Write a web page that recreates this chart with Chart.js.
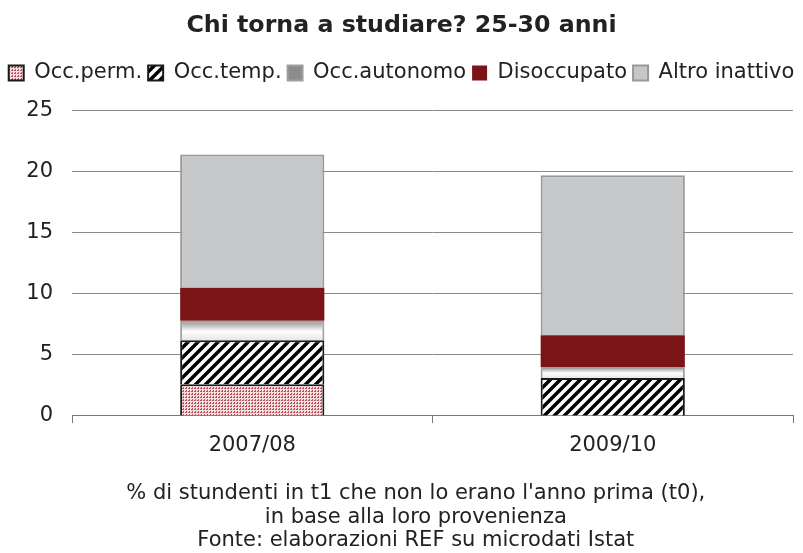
<!DOCTYPE html>
<html>
<head>
<meta charset="utf-8">
<script src="https://cdn.jsdelivr.net/npm/chart.js@4.4.1/dist/chart.umd.min.js"></script>
<style>
  html, body { margin: 0; padding: 0; background: #fff; }
  #wrap { width: 803px; height: 553px; }
</style>
</head>
<body>
<div id="wrap"><canvas id="myChart"></canvas></div>
<script>
const anni = ['2007/08', '2009/10'];
const occPerm = [2.6, 0];
const occTemp = [3.6, 3.1];
const occAutonomo = [1.6, 0.9];
const disoccupato = [2.7, 2.6];
const altroInattivo = [10.9, 13.1];
const yTicks = [0, 5, 10, 15, 20, 25];

const ctx = document.getElementById('myChart').getContext('2d');

// motivo a puntini per Occ.perm.
function puntini() {
  const c = document.createElement('canvas');
  c.width = 3; c.height = 3;
  const g = c.getContext('2d');
  g.fillStyle = '#f6dede';
  g.fillRect(0, 0, 3, 3);
  g.fillStyle = '#b7525c';
  g.fillRect(0, 0, 1, 2);
  g.fillRect(2, 1, 1, 1);
  return ctx.createPattern(c, 'repeat');
}

// righe diagonali per Occ.temp.
function righe() {
  const c = document.createElement('canvas');
  c.width = 10; c.height = 10;
  const g = c.getContext('2d');
  g.fillStyle = '#fff';
  g.fillRect(0, 0, 10, 10);
  g.strokeStyle = '#000';
  g.lineWidth = 3.5;
  g.beginPath();
  g.moveTo(-2, 12); g.lineTo(12, -2);
  g.moveTo(-7, 7); g.lineTo(7, -7);
  g.moveTo(3, 17); g.lineTo(17, 3);
  g.stroke();
  return ctx.createPattern(c, 'repeat');
}

function sfumato(context) {
  if (context.type !== 'data') return '#dcdcdc';
  const y = context.chart.scales.y;
  if (!y) return '#dcdcdc';
  const i = context.dataIndex;
  const base = occPerm[i] + occTemp[i];
  const top = base + occAutonomo[i];
  const y0 = y.getPixelForValue(top);
  const y1 = y.getPixelForValue(base);
  if (!isFinite(y0) || !isFinite(y1) || y0 === y1) return '#dcdcdc';
  const g = context.chart.ctx.createLinearGradient(0, y0, 0, y1);
  g.addColorStop(0, '#8c8c8c');
  g.addColorStop(0.55, '#ffffff');
  g.addColorStop(1, '#e6e6e6');
  return g;
}

const testo = '#222';
const font = { family: 'DejaVu Sans', size: 21 };

new Chart(ctx, {
  type: 'bar',
  data: {
    labels: anni,
    datasets: [
      { label: 'Occ.perm.', data: occPerm, backgroundColor: puntini(), borderColor: '#1a1a1a', borderWidth: 2 },
      { label: 'Occ.temp.', data: occTemp, backgroundColor: righe(), borderColor: '#1a1a1a', borderWidth: 2 },
      { label: 'Occ.autonomo', data: occAutonomo, backgroundColor: sfumato, borderColor: '#a0a0a2', borderWidth: 2 },
      { label: 'Disoccupato', data: disoccupato, backgroundColor: '#7b1416', borderColor: '#7b1416', borderWidth: 0 },
      { label: 'Altro inattivo', data: altroInattivo, backgroundColor: '#c6c7c9', borderColor: '#98989a', borderWidth: 2 }
    ]
  },
  options: {
    responsive: true,
    maintainAspectRatio: false,
    animation: false,
    layout: { padding: { left: 0, right: 0, top: 8, bottom: 0 } },
    datasets: { bar: { barPercentage: 1, categoryPercentage: 0.4 } },
    plugins: {
      title: {
        display: true,
        text: 'Chi torna a studiare? 25-30 anni',
        color: testo,
        font: { family: 'DejaVu Sans', size: 23.7, weight: 'bold' },
        padding: { top: 4, bottom: 16 }
      },
      // spazio vuoto tra legenda e grafico
      subtitle: {
        display: true,
        text: '',
        weight: 500,
        font: { size: 10, lineHeight: 1 },
        padding: { top: 7, bottom: 0 }
      },
      legend: {
        position: 'top',
        labels: {
          color: testo,
          font: font,
          boxWidth: 15,
          boxHeight: 15,
          padding: 6
        }
      },
      tooltip: { enabled: false }
    },
    scales: {
      x: {
        stacked: true,
        grid: { drawOnChartArea: false, drawTicks: true, tickLength: 7, color: '#777' },
        border: { display: true, color: '#777' },
        ticks: { color: testo, font: font, padding: 10 },
        title: {
          display: true,
          text: ["% di stundenti in t1 che non lo erano l'anno prima (t0),     ", 'in base alla loro provenienza     ', 'Fonte: elaborazioni REF su microdati Istat     '],
          color: testo,
          font: { family: 'DejaVu Sans', size: 21, lineHeight: 1.14 },
          padding: { top: 13, bottom: 0 }
        }
      },
      y: {
        stacked: true,
        min: 0,
        max: 25,
        afterBuildTicks: (scale) => { scale.ticks = yTicks.map(v => ({ value: v })); },
        afterFit: (scale) => { scale.width = 72; },
        grid: { color: '#8a8a8a', drawTicks: false },
        border: { display: false },
        ticks: { color: testo, font: font, padding: 19 }
      },
      // margine destro
      destra: {
        position: 'right',
        display: true,
        grid: { display: false },
        border: { display: false },
        ticks: { display: false },
        afterFit: (scale) => { scale.width = 10; }
      }
    }
  }
});
</script>
</body>
</html>
